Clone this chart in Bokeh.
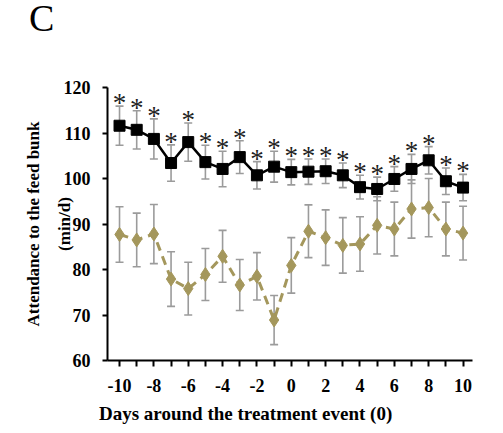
import numpy as np
from bokeh.plotting import figure
from bokeh.layouts import column
from bokeh.models import (ColumnDataSource, Whisker, FixedTicker, Range1d, TeeHead, LinearAxis, Div)
from bokeh.core.properties import value
from bokeh.embed import file_html
from bokeh.resources import INLINE

days = list(range(-10, 11))
treated_mean = [111.6, 110.7, 108.7, 103.4, 108.0, 103.6, 102.1, 104.7, 100.7, 102.6,
                101.4, 101.5, 101.6, 100.7, 98.1, 97.7, 99.9, 102.1, 104.0, 99.4, 98.0]
treated_se = [4.3, 4.2, 4.4, 4.0, 4.2, 3.7, 3.9, 3.6, 3.0, 3.4,
              2.8, 2.8, 2.7, 2.7, 2.6, 2.6, 2.7, 3.2, 3.0, 2.9, 2.9]
control_mean = [87.7, 86.5, 87.8, 77.9, 75.8, 78.9, 82.9, 76.6, 78.5, 68.9,
                80.9, 88.4, 87.0, 85.3, 85.6, 89.7, 88.9, 93.3, 93.6, 88.9, 88.0]
control_se = [6.1, 5.9, 6.5, 6.0, 5.8, 5.7, 5.7, 5.6, 5.2, 5.4,
              6.1, 5.8, 6.1, 6.1, 6.0, 6.3, 5.9, 6.4, 6.4, 5.9, 5.9]
x_tick_labels = ["-10", "-8", "-6", "-4", "-2", "0", "2", "4", "6", "8", "10"]
y_ticks = [60, 70, 80, 90, 100, 110, 120]
y_title_lines = ["Attendance to the feed bunk", "(min/d)"]
x_title = "Days around the treatment event (0)"
panel_letter = "C"

FONT = "Liberation Serif"
GOLD = "#a4975c"
GRAY = "#9b9b9b"
W = 487

tm = np.array(treated_mean); ts = np.array(treated_se)
cm = np.array(control_mean); cs = np.array(control_se)

src_t = ColumnDataSource(dict(x=days, y=tm, lo=tm - ts, hi=tm + ts, star=["*"] * len(days)))
src_c = ColumnDataSource(dict(x=days, y=cm, lo=cm - cs, hi=cm + cs))

p = figure(width=W, height=361, output_backend="svg", toolbar_location=None,
           x_range=Range1d(-10.7, 10.55), y_range=Range1d(60, 120),
           min_border_left=107, min_border_right=15, min_border_top=39, min_border_bottom=49)
p.outline_line_color = None
p.xgrid.visible = False
p.ygrid.visible = False

# control series (gold dashed)
p.line("x", "y", source=src_c, line_color=GOLD, line_width=3, line_dash="9 6")
p.scatter("x", "y", source=src_c, marker="diamond", size=14, fill_color=GOLD, line_color=GOLD)

# error bars
for src in (src_c, src_t):
    w = Whisker(base="x", upper="hi", lower="lo", source=src, line_color=GRAY, line_width=1.6,
                upper_head=TeeHead(size=8, line_color=GRAY, line_width=1.6),
                lower_head=TeeHead(size=8, line_color=GRAY, line_width=1.6))
    p.add_layout(w)

# treated series (black)
p.line("x", "y", source=src_t, line_color="black", line_width=2.5)
p.scatter("x", "y", source=src_t, marker="square", size=11, fill_color="black", line_color="black")

# asterisks
p.text("x", "hi", text="star", source=src_t, text_font=value(FONT), text_font_size="27px",
       text_align="center", text_baseline="middle", y_offset=-3, text_color="#222222")

# axes
p.xaxis.ticker = FixedTicker(ticks=list(range(-10, 11, 2)), minor_ticks=list(range(-9, 10, 2)))
p.xaxis.major_label_overrides = {t: lab for t, lab in zip(range(-10, 11, 2), x_tick_labels)}
p.yaxis.ticker = FixedTicker(ticks=y_ticks)
for ax in (p.xaxis[0], p.yaxis[0]):
    ax.axis_line_width = 2
    ax.axis_line_color = "black"
    ax.major_tick_line_width = 2
    ax.major_tick_line_color = "black"
    ax.minor_tick_line_width = 2
    ax.minor_tick_line_color = "black"
    ax.major_label_text_font = FONT
    ax.major_label_text_font_style = "bold"
    ax.major_label_text_font_size = "18px"
    ax.major_label_text_color = "black"
    ax.axis_label_text_font = FONT
    ax.axis_label_text_font_style = "bold"
    ax.axis_label_text_color = "black"
    ax.major_tick_in = 0
    ax.minor_tick_in = 0

p.xaxis.major_tick_out = 6
p.xaxis.minor_tick_out = 6
p.xaxis.major_label_standoff = 12

p.yaxis.major_tick_out = 5
p.yaxis.minor_tick_out = 0
p.yaxis.major_label_standoff = 12
p.yaxis.axis_label = y_title_lines[1]
p.yaxis.axis_label_text_font_size = "17px"
p.yaxis.axis_label_standoff = -13

# outer title line as an extra, otherwise empty, left axis
outer = LinearAxis(ticker=FixedTicker(ticks=[]), axis_line_color=None,
                   major_tick_line_color=None, minor_tick_line_color=None,
                   major_label_text_font_size="0px",
                   axis_label=y_title_lines[0], axis_label_text_font=FONT,
                   axis_label_text_font_style="bold", axis_label_text_font_size="17px",
                   axis_label_text_color="black", axis_label_standoff=9)
p.add_layout(outer, "left")

header = Div(width=W, height=38, text=(
    f"<div style=\"font-family:'{FONT}';font-size:38px;line-height:38px;"
    f"padding-left:24px;position:relative;top:-6px;color:black;\">{panel_letter}</div>"))
footer = Div(width=W, height=18, text=(
    f"<div style=\"font-family:'{FONT}';font-weight:bold;font-size:19px;line-height:18px;"
    f"padding-left:94px;text-align:center;position:relative;top:-9px;color:black;"
    f"white-space:nowrap;\">{x_title}</div>"))

layout = column(header, p, footer, spacing=0)

open("out.html", "w").write(file_html(layout, INLINE))
